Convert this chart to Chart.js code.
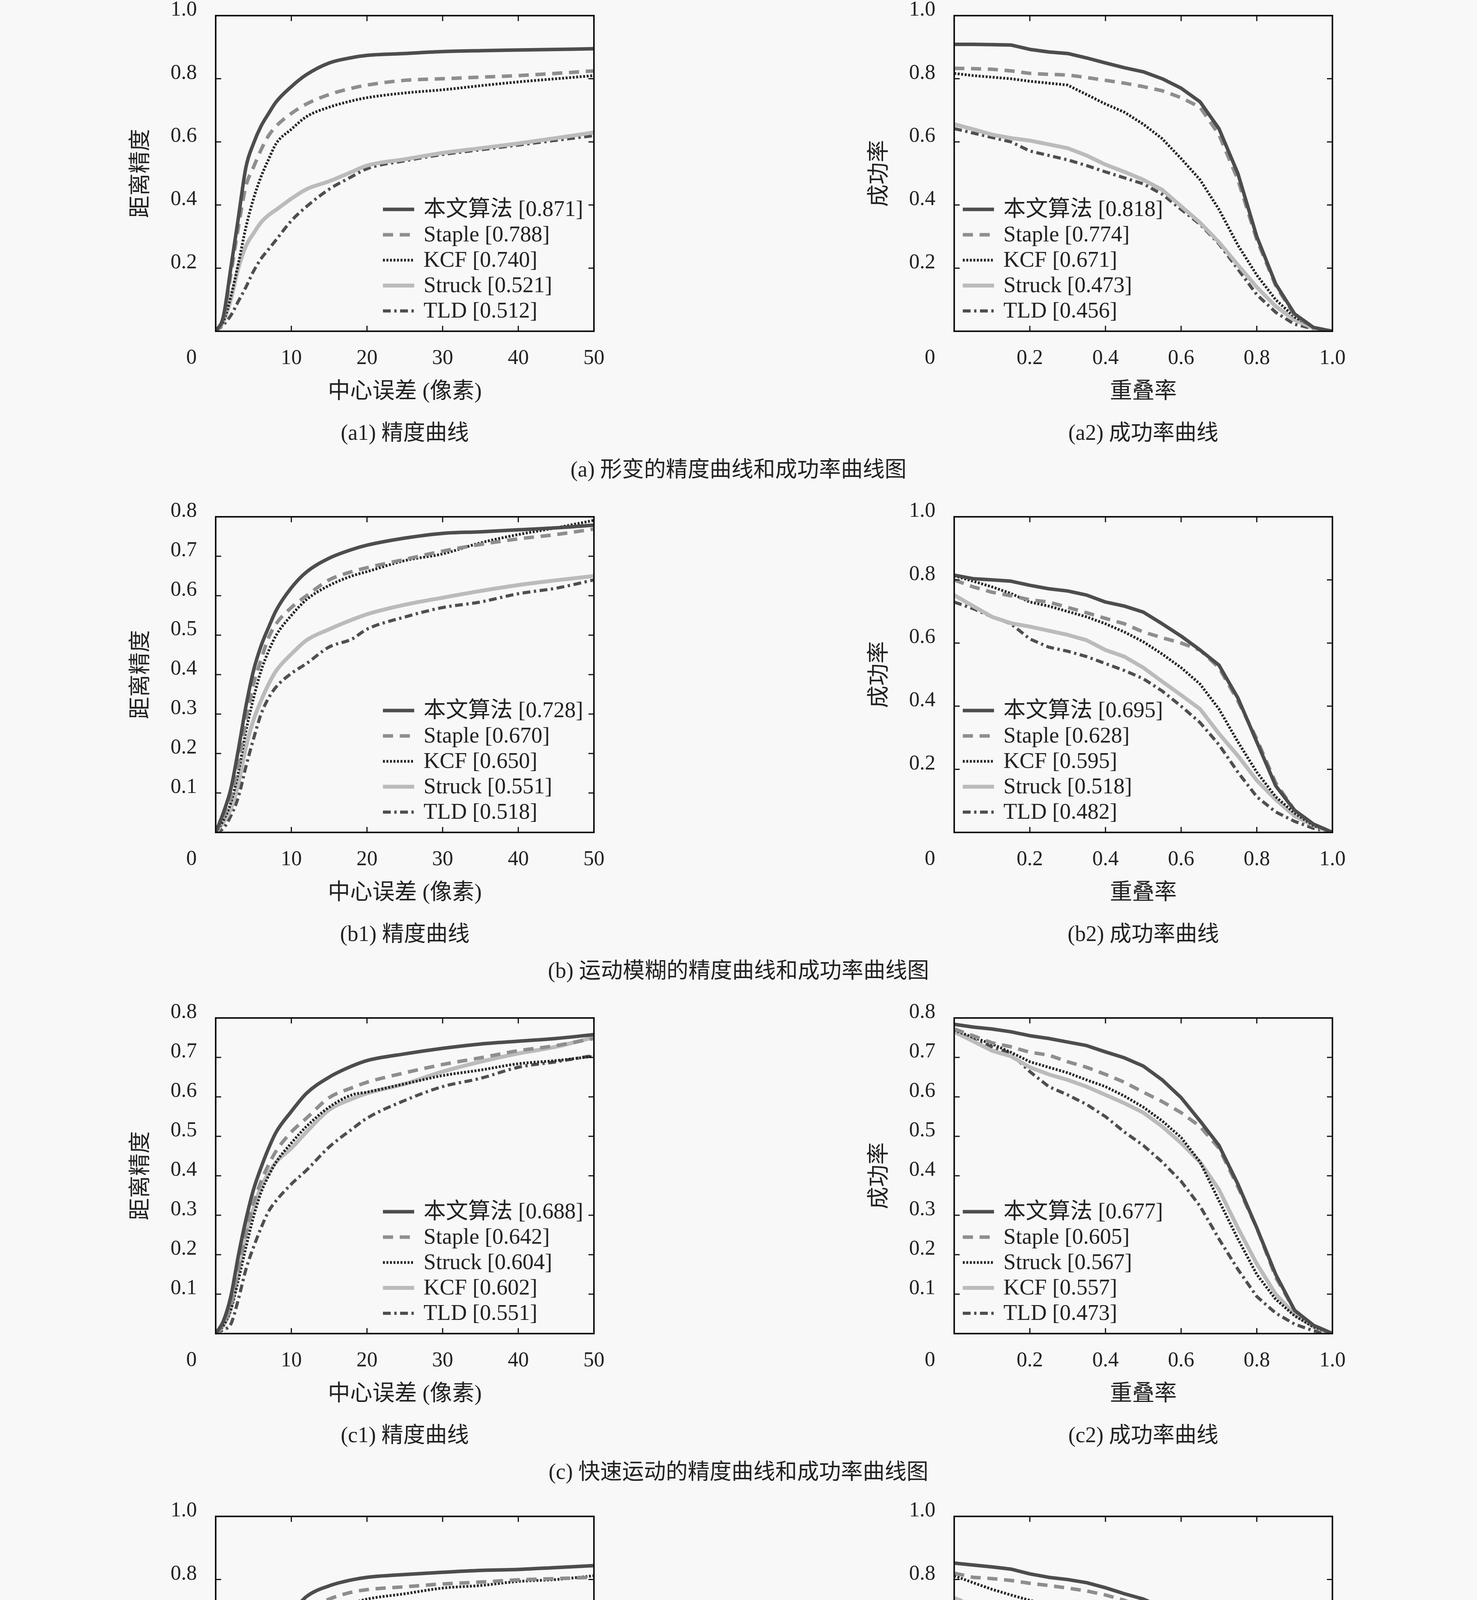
<!DOCTYPE html>
<html lang="zh">
<head>
<meta charset="utf-8">
<title>精度曲线和成功率曲线图</title>
<script src="https://cdn.jsdelivr.net/npm/chart.js@4.4.1/dist/chart.umd.min.js"></script>
<style>
html, body { margin: 0; padding: 0; background: #f8f8f8; }
#page { position: relative; width: 3780px; height: 5079px; overflow: hidden; }
canvas { position: absolute; }
.cap { position: absolute; transform: translate(-50%, -50%); white-space: nowrap;
       font: 56px "Liberation Serif", "Noto Sans CJK SC", serif; color: #222; }
</style>
</head>
<body>
<div id="page"></div>
<script>
// x samples
var precX = [0, 1, 2, 3, 4, 5, 6, 7, 8, 10, 12, 15, 18, 20, 25, 30, 35, 40, 45, 50];
var succX = [0, 0.05, 0.1, 0.15, 0.2, 0.25, 0.3, 0.35, 0.4, 0.45, 0.5, 0.55, 0.6, 0.65, 0.7, 0.75, 0.8, 0.85, 0.9, 0.95, 1];

// (a) 形变
var a1Names = ['本文算法', 'Staple', 'KCF', 'Struck', 'TLD'];
var a1Scores = ['0.871', '0.788', '0.740', '0.521', '0.512'];
var a1Curves = [
  [0, 0.045, 0.2, 0.36, 0.52, 0.595, 0.65, 0.69, 0.727, 0.775, 0.813, 0.85, 0.867, 0.874, 0.88, 0.886, 0.889, 0.891, 0.893, 0.895],
  [0, 0.04, 0.18, 0.33, 0.46, 0.52, 0.575, 0.62, 0.65, 0.69, 0.72, 0.75, 0.77, 0.78, 0.795, 0.80, 0.805, 0.81, 0.817, 0.825],
  [0, 0.03, 0.11, 0.215, 0.33, 0.42, 0.49, 0.545, 0.595, 0.64, 0.68, 0.71, 0.73, 0.74, 0.755, 0.765, 0.778, 0.79, 0.80, 0.81],
  [0, 0.03, 0.1, 0.2, 0.27, 0.31, 0.345, 0.368, 0.385, 0.42, 0.45, 0.475, 0.505, 0.525, 0.545, 0.565, 0.58, 0.595, 0.612, 0.63],
  [0, 0.02, 0.05, 0.095, 0.14, 0.19, 0.23, 0.26, 0.29, 0.35, 0.395, 0.45, 0.49, 0.515, 0.54, 0.56, 0.575, 0.59, 0.605, 0.62]
];
var a2Names = ['本文算法', 'Staple', 'KCF', 'Struck', 'TLD'];
var a2Scores = ['0.818', '0.774', '0.671', '0.473', '0.456'];
var a2Curves = [
  [0.909, 0.909, 0.908, 0.907, 0.893, 0.885, 0.88, 0.866, 0.85, 0.835, 0.822, 0.80, 0.77, 0.727, 0.642, 0.50, 0.30, 0.15, 0.055, 0.012, 0],
  [0.833, 0.832, 0.83, 0.825, 0.817, 0.814, 0.812, 0.804, 0.795, 0.786, 0.775, 0.762, 0.74, 0.71, 0.623, 0.48, 0.29, 0.145, 0.05, 0.012, 0],
  [0.817, 0.81, 0.805, 0.8, 0.792, 0.786, 0.78, 0.75, 0.72, 0.694, 0.656, 0.61, 0.547, 0.48, 0.386, 0.273, 0.178, 0.10, 0.045, 0.012, 0],
  [0.656, 0.64, 0.623, 0.612, 0.604, 0.592, 0.58, 0.557, 0.528, 0.505, 0.48, 0.448, 0.396, 0.344, 0.282, 0.21, 0.14, 0.079, 0.036, 0.01, 0],
  [0.642, 0.628, 0.614, 0.60, 0.571, 0.557, 0.543, 0.525, 0.505, 0.486, 0.467, 0.434, 0.386, 0.339, 0.277, 0.197, 0.116, 0.06, 0.022, 0.008, 0]
];

// (b) 运动模糊
var b1Names = ['本文算法', 'Staple', 'KCF', 'Struck', 'TLD'];
var b1Scores = ['0.728', '0.670', '0.650', '0.551', '0.518'];
var b1Curves = [
  [0, 0.049, 0.11, 0.21, 0.32, 0.41, 0.473, 0.52, 0.563, 0.62, 0.66, 0.695, 0.717, 0.728, 0.746, 0.758, 0.762, 0.767, 0.772, 0.779],
  [0, 0.04, 0.09, 0.174, 0.285, 0.376, 0.438, 0.494, 0.529, 0.57, 0.60, 0.64, 0.661, 0.671, 0.692, 0.713, 0.73, 0.744, 0.755, 0.769],
  [0, 0.03, 0.075, 0.153, 0.257, 0.34, 0.41, 0.46, 0.50, 0.55, 0.59, 0.626, 0.65, 0.661, 0.689, 0.706, 0.734, 0.755, 0.772, 0.791],
  [0, 0.025, 0.06, 0.125, 0.216, 0.285, 0.334, 0.376, 0.41, 0.452, 0.487, 0.515, 0.539, 0.553, 0.577, 0.595, 0.612, 0.627, 0.639, 0.65],
  [0, 0.01, 0.042, 0.09, 0.167, 0.237, 0.30, 0.341, 0.369, 0.403, 0.428, 0.47, 0.49, 0.515, 0.546, 0.57, 0.584, 0.605, 0.619, 0.64]
];
var b2Names = ['本文算法', 'Staple', 'KCF', 'Struck', 'TLD'];
var b2Scores = ['0.695', '0.628', '0.595', '0.518', '0.482'];
var b2Curves = [
  [0.815, 0.804, 0.80, 0.796, 0.783, 0.772, 0.765, 0.752, 0.73, 0.717, 0.698, 0.661, 0.622, 0.578, 0.53, 0.426, 0.287, 0.148, 0.07, 0.026, 0],
  [0.80, 0.778, 0.761, 0.75, 0.737, 0.73, 0.713, 0.696, 0.678, 0.661, 0.635, 0.617, 0.60, 0.578, 0.522, 0.417, 0.296, 0.157, 0.07, 0.026, 0],
  [0.813, 0.796, 0.778, 0.757, 0.73, 0.717, 0.70, 0.683, 0.661, 0.635, 0.604, 0.565, 0.522, 0.47, 0.391, 0.287, 0.191, 0.113, 0.061, 0.022, 0],
  [0.752, 0.717, 0.683, 0.663, 0.652, 0.639, 0.626, 0.609, 0.578, 0.557, 0.522, 0.478, 0.435, 0.391, 0.313, 0.243, 0.165, 0.104, 0.052, 0.022, 0],
  [0.73, 0.709, 0.683, 0.661, 0.613, 0.587, 0.574, 0.557, 0.535, 0.513, 0.487, 0.448, 0.40, 0.348, 0.278, 0.191, 0.113, 0.065, 0.035, 0.013, 0]
];

// (c) 快速运动
var c1Names = ['本文算法', 'Staple', 'Struck', 'KCF', 'TLD'];
var c1Scores = ['0.688', '0.642', '0.604', '0.602', '0.551'];
var c1Curves = [
  [0, 0.031, 0.094, 0.198, 0.289, 0.365, 0.421, 0.47, 0.511, 0.563, 0.609, 0.65, 0.678, 0.692, 0.709, 0.723, 0.734, 0.741, 0.748, 0.758],
  [0, 0.025, 0.07, 0.163, 0.254, 0.33, 0.386, 0.428, 0.463, 0.511, 0.546, 0.598, 0.623, 0.637, 0.661, 0.682, 0.699, 0.717, 0.73, 0.748],
  [0, 0.02, 0.06, 0.136, 0.219, 0.296, 0.358, 0.40, 0.435, 0.483, 0.525, 0.574, 0.605, 0.612, 0.633, 0.654, 0.668, 0.684, 0.692, 0.703],
  [0, 0.02, 0.065, 0.157, 0.254, 0.317, 0.372, 0.407, 0.435, 0.47, 0.511, 0.567, 0.595, 0.609, 0.633, 0.664, 0.689, 0.71, 0.727, 0.751],
  [0, 0.01, 0.024, 0.087, 0.163, 0.219, 0.268, 0.31, 0.337, 0.379, 0.414, 0.473, 0.518, 0.546, 0.591, 0.626, 0.647, 0.675, 0.689, 0.705]
];
var c2Names = ['本文算法', 'Staple', 'Struck', 'KCF', 'TLD'];
var c2Scores = ['0.677', '0.605', '0.567', '0.557', '0.473'];
var c2Curves = [
  [0.784, 0.777, 0.772, 0.765, 0.755, 0.748, 0.739, 0.73, 0.714, 0.699, 0.678, 0.643, 0.598, 0.539, 0.477, 0.379, 0.268, 0.15, 0.059, 0.021, 0],
  [0.772, 0.755, 0.737, 0.727, 0.713, 0.706, 0.689, 0.675, 0.657, 0.637, 0.612, 0.588, 0.56, 0.525, 0.47, 0.372, 0.268, 0.143, 0.059, 0.021, 0],
  [0.769, 0.751, 0.734, 0.713, 0.689, 0.675, 0.661, 0.643, 0.626, 0.602, 0.574, 0.539, 0.497, 0.435, 0.337, 0.24, 0.15, 0.087, 0.045, 0.017, 0],
  [0.765, 0.741, 0.717, 0.703, 0.675, 0.657, 0.643, 0.626, 0.605, 0.584, 0.56, 0.525, 0.483, 0.435, 0.365, 0.268, 0.177, 0.10, 0.049, 0.017, 0],
  [0.769, 0.744, 0.727, 0.71, 0.664, 0.626, 0.605, 0.581, 0.55, 0.511, 0.477, 0.435, 0.386, 0.323, 0.24, 0.163, 0.094, 0.052, 0.024, 0.007, 0]
];

// (d) 片外旋转
var d1Names = ['本文算法', 'Staple', 'KCF', 'Struck', 'TLD'];
var d1Scores = ['0.804', '0.764', '0.729', '0.597', '0.596'];
var d1Curves = [
  [0, 0.065, 0.139, 0.278, 0.39, 0.477, 0.547, 0.599, 0.638, 0.694, 0.746, 0.78, 0.799, 0.807, 0.816, 0.823, 0.829, 0.832, 0.838, 0.844],
  [0, 0.05, 0.12, 0.252, 0.382, 0.46, 0.521, 0.573, 0.616, 0.668, 0.703, 0.738, 0.76, 0.768, 0.777, 0.786, 0.792, 0.799, 0.803, 0.807],
  [0, 0.03, 0.08, 0.191, 0.269, 0.339, 0.425, 0.486, 0.538, 0.616, 0.66, 0.703, 0.725, 0.738, 0.755, 0.773, 0.781, 0.794, 0.80, 0.812],
  [0, 0.03, 0.08, 0.20, 0.252, 0.304, 0.347, 0.382, 0.408, 0.46, 0.503, 0.551, 0.577, 0.599, 0.629, 0.655, 0.673, 0.688, 0.701, 0.714],
  [0, 0.01, 0.035, 0.139, 0.217, 0.278, 0.33, 0.365, 0.395, 0.443, 0.486, 0.538, 0.573, 0.595, 0.625, 0.653, 0.67, 0.686, 0.70, 0.712]
];
var d2Names = ['本文算法', 'Staple', 'KCF', 'Struck', 'TLD'];
var d2Scores = ['0.734', '0.706', '0.608', '0.506', '0.497'];
var d2Curves = [
  [0.852, 0.846, 0.84, 0.833, 0.818, 0.807, 0.80, 0.79, 0.774, 0.755, 0.738, 0.712, 0.673, 0.629, 0.564, 0.469, 0.321, 0.174, 0.065, 0.017, 0],
  [0.82, 0.807, 0.803, 0.797, 0.788, 0.781, 0.773, 0.764, 0.751, 0.734, 0.712, 0.681, 0.651, 0.608, 0.547, 0.451, 0.313, 0.174, 0.069, 0.017, 0],
  [0.812, 0.79, 0.769, 0.751, 0.734, 0.721, 0.708, 0.694, 0.673, 0.647, 0.612, 0.564, 0.512, 0.451, 0.382, 0.295, 0.208, 0.13, 0.065, 0.022, 0],
  [0.742, 0.716, 0.69, 0.668, 0.651, 0.634, 0.616, 0.595, 0.573, 0.547, 0.521, 0.486, 0.443, 0.391, 0.321, 0.243, 0.165, 0.104, 0.061, 0.022, 0],
  [0.742, 0.72, 0.699, 0.677, 0.655, 0.638, 0.621, 0.603, 0.582, 0.547, 0.508, 0.46, 0.408, 0.347, 0.278, 0.20, 0.122, 0.061, 0.026, 0.009, 0]
];

var groupCaptions = ['(a) 形变的精度曲线和成功率曲线图', '(b) 运动模糊的精度曲线和成功率曲线图',
                     '(c) 快速运动的精度曲线和成功率曲线图', '(d) 片外旋转的精度曲线和成功率曲线图'];

var FONT = '"Liberation Serif", "Noto Sans CJK SC", serif';
var INK = '#222';

// line styles by rank in legend
var styles = [
  {color: '#4d4d4d', width: 9, dash: []},
  {color: '#8e8e8e', width: 9, dash: [26, 17]},
  {color: '#262626', width: 7, dash: [5, 4]},
  {color: '#bbbbbb', width: 10, dash: []},
  {color: '#4f4f4f', width: 8, dash: [20, 9, 6, 9]}
];

var rowTops = [40, 1323, 2606, 3882];
var colLefts = [552, 2442];
var PW = 968, PH = 808;            // plot box
var L = 230, T = 100, R = 90, B = 200;

// box, inward ticks, origin label and legend
var framePlugin = {
  id: 'frame',
  afterDraw: function(chart, args, opts) {
    var a = chart.chartArea, ctx = chart.ctx;
    var xs = chart.scales.x, ys = chart.scales.y;
    ctx.save();
    ctx.strokeStyle = '#111';
    ctx.lineWidth = 4;
    ctx.strokeRect(a.left, a.top, a.right - a.left, a.bottom - a.top);
    ctx.lineWidth = 3;
    ctx.beginPath();
    xs.ticks.forEach(function(t) {
      var px = xs.getPixelForValue(t.value);
      ctx.moveTo(px, a.bottom); ctx.lineTo(px, a.bottom - 14);
      ctx.moveTo(px, a.top); ctx.lineTo(px, a.top + 14);
    });
    ys.ticks.forEach(function(t) {
      var py = ys.getPixelForValue(t.value);
      ctx.moveTo(a.left, py); ctx.lineTo(a.left + 14, py);
      ctx.moveTo(a.right, py); ctx.lineTo(a.right - 14, py);
    });
    ctx.stroke();

    ctx.fillStyle = INK;
    ctx.font = '54px ' + FONT;
    ctx.textAlign = 'center';
    ctx.textBaseline = 'middle';
    ctx.fillText('0', a.left - 62, a.bottom + 69);

    var x0 = opts.side === 'right' ? a.left + 428 : a.left + 22;
    chart.data.datasets.forEach(function(ds, i) {
      var cy = a.bottom - 312 + i * 65;
      ctx.beginPath();
      ctx.setLineDash(ds.borderDash);
      ctx.strokeStyle = ds.borderColor;
      ctx.lineWidth = ds.borderWidth;
      ctx.moveTo(x0, cy); ctx.lineTo(x0 + 80, cy);
      ctx.stroke();
      ctx.setLineDash([]);
      ctx.font = '57px ' + FONT;
      ctx.textAlign = 'left';
      ctx.fillText(ds.label, x0 + 104, cy + 2);
    });
    ctx.restore();
  }
};

function fmt1(v) { return Math.abs(v) < 1e-9 ? '' : v.toFixed(1); }

function makeChart(row, col, names, scores, curves, yMax, yStep) {
  var prec = col === 0;
  var xs = prec ? precX : succX;
  var plotLeft = colLefts[col], plotTop = rowTops[row];
  var cv = document.createElement('canvas');
  cv.width = L + PW + R;
  cv.height = T + PH + B;
  cv.style.left = (plotLeft - L) + 'px';
  cv.style.top = (plotTop - T) + 'px';
  document.getElementById('page').appendChild(cv);

  new Chart(cv, {
    type: 'line',
    data: {
      datasets: curves.map(function(c, i) {
        return {
          label: names[i] + ' [' + scores[i] + ']',
          data: xs.map(function(x, j) { return {x: x, y: c[j]}; }),
          borderColor: styles[i].color,
          borderWidth: styles[i].width,
          borderDash: styles[i].dash,
          borderCapStyle: 'butt',
          borderJoinStyle: 'round',
          pointRadius: 0,
          fill: false,
          tension: prec ? 0.3 : 0,
          cubicInterpolationMode: prec ? 'monotone' : 'default'
        };
      })
    },
    options: {
      responsive: false,
      animation: false,
      devicePixelRatio: 1,
      layout: {padding: {left: 0, top: T, right: R, bottom: 0}},
      plugins: {
        legend: {display: false},
        tooltip: {enabled: false},
        frame: {side: prec ? 'right' : 'left'}
      },
      scales: {
        x: {
          type: 'linear', min: 0, max: prec ? 50 : 1,
          grid: {display: false, drawTicks: false},
          border: {display: false},
          ticks: {
            stepSize: prec ? 10 : 0.2, padding: 37, maxRotation: 0, autoSkip: false,
            color: INK, font: {family: FONT, size: 54},
            callback: function(v) { return prec ? (v === 0 ? '' : String(Math.round(v))) : fmt1(v); }
          },
          title: {display: true, text: prec ? '中心误差 (像素)' : '重叠率', color: INK,
                  font: {family: FONT, size: 57}, padding: {top: 0, bottom: 10}},
          afterFit: function(s) { s.height = B; }
        },
        y: {
          min: 0, max: yMax,
          grid: {display: false, drawTicks: false},
          border: {display: false},
          ticks: {
            stepSize: yStep, padding: 48, labelOffset: -14, autoSkip: false,
            color: INK, font: {family: FONT, size: 54},
            callback: fmt1
          },
          title: {display: true, text: prec ? '距离精度' : '成功率', color: INK,
                  font: {family: FONT, size: 57}, padding: {top: 6, bottom: 0}},
          afterFit: function(s) { s.width = L; }
        }
      }
    },
    plugins: [framePlugin]
  });

  var cap = document.createElement('div');
  cap.className = 'cap';
  cap.textContent = '(' + 'abcd'[row] + (col + 1) + ') ' + (prec ? '精度曲线' : '成功率曲线');
  cap.style.left = (plotLeft + PW / 2) + 'px';
  cap.style.top = (plotTop + PH + 253) + 'px';
  document.getElementById('page').appendChild(cap);
}

makeChart(0, 0, a1Names, a1Scores, a1Curves, 1, 0.2);
makeChart(0, 1, a2Names, a2Scores, a2Curves, 1, 0.2);
makeChart(1, 0, b1Names, b1Scores, b1Curves, 0.8, 0.1);
makeChart(1, 1, b2Names, b2Scores, b2Curves, 1, 0.2);
makeChart(2, 0, c1Names, c1Scores, c1Curves, 0.8, 0.1);
makeChart(2, 1, c2Names, c2Scores, c2Curves, 0.8, 0.1);
makeChart(3, 0, d1Names, d1Scores, d1Curves, 1, 0.2);
makeChart(3, 1, d2Names, d2Scores, d2Curves, 1, 0.2);

groupCaptions.forEach(function(t, r) {
  var g = document.createElement('div');
  g.className = 'cap';
  g.textContent = t;
  g.style.left = '1890px';
  g.style.top = (rowTops[r] + PH + 347) + 'px';
  document.getElementById('page').appendChild(g);
});
</script>
</body>
</html>
